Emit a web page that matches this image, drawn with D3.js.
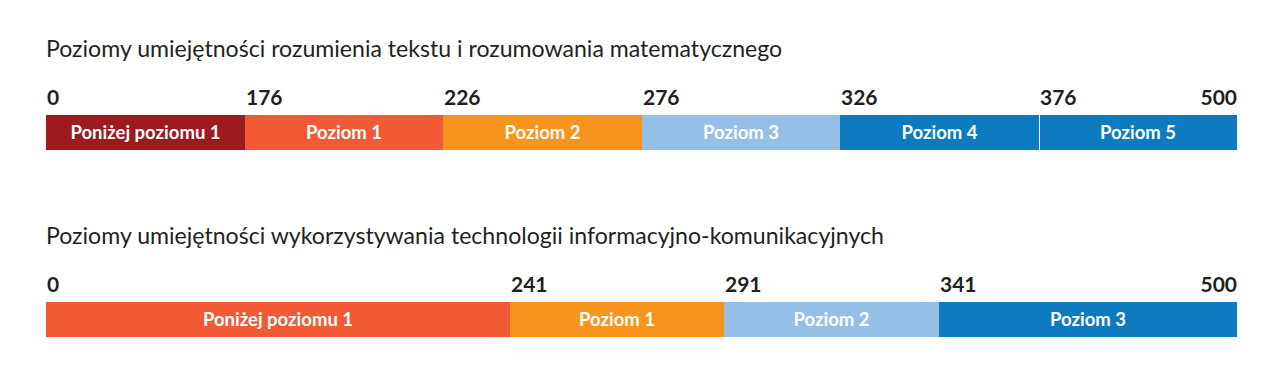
<!DOCTYPE html>
<html>
<head>
<meta charset="utf-8">
<script src="https://cdn.jsdelivr.net/npm/d3@7"></script>
<style>
  body { margin: 0; background: #fff; }
  text { font-family: Lato, "Open Sans", sans-serif; }
</style>
</head>
<body>
<div id="chart"></div>
<script>
// dane: progi punktowe i nazwy poziomow
var litTitle = "Poziomy umiejętności rozumienia tekstu i rozumowania matematycznego";
var litBounds = [0, 176, 226, 276, 326, 376, 500];
var litLevels = ["Poniżej poziomu 1", "Poziom 1", "Poziom 2", "Poziom 3", "Poziom 4", "Poziom 5"];

var ictTitle = "Poziomy umiejętności wykorzystywania technologii informacyjno-komunikacyjnych";
var ictBounds = [0, 241, 291, 341, 500];
var ictLevels = ["Poniżej poziomu 1", "Poziom 1", "Poziom 2", "Poziom 3"];

var litColors = ["#9b1b1f", "#f15a35", "#f7941d", "#95bfe6", "#0e7bc1", "#0e7bc1"];
var ictColors = ["#f15a35", "#f7941d", "#95bfe6", "#0e7bc1"];

var W = 1277, H = 374;
var left = 46, right = 1237;

var svg = d3.select("#chart").append("svg").attr("width", W).attr("height", H);

// top scale: equal-width segments; bottom: designer widths (fractions of bar)
var litStops = litBounds.map(function(d, i) { return i / (litBounds.length - 1); });
var ictStops = [0, 0.3896, 0.5693, 0.7498, 1];

function drawBlock(top, title, bounds, levels, colors, stops) {
  var x = d3.scaleLinear()
    .domain(bounds)
    .rangeRound(stops.map(function(s) { return left + s * (right - left); }));

  var g = svg.append("g").attr("transform", "translate(0," + top + ")");

  g.append("text")
    .attr("x", left)
    .attr("y", 0)
    .attr("fill", "#231f20")
    .style("font-size", "23.1px")
    .text(title);

  g.selectAll(".tick-label")
    .data(bounds)
    .enter().append("text")
      .attr("class", "tick-label")
      .attr("x", function(d, i) { return i == bounds.length - 1 ? x(d) : x(d) + 1; })
      .attr("y", 48)
      .attr("text-anchor", function(d, i) { return i == bounds.length - 1 ? "end" : "start"; })
      .attr("fill", "#231f20")
      .style("font-size", "21px")
      .style("font-weight", "bold")
      .text(function(d) { return d; });

  var segs = levels.map(function(l, i) { return {label: l, a: bounds[i], b: bounds[i + 1], c: colors[i]}; });

  g.selectAll(".seg")
    .data(segs)
    .enter().append("rect")
      .attr("class", "seg")
      .attr("x", function(d) { return x(d.a); })
      .attr("y", 58)
      .attr("width", function(d) { return x(d.b) - x(d.a); })
      .attr("height", 35)
      .attr("fill", function(d) { return d.c; })
      .attr("shape-rendering", "crispEdges");

  // white separator only where two neighbours share a colour
  g.selectAll(".sep")
    .data(segs.slice(1).filter(function(d, i) { return d.c == segs[i].c; }))
    .enter().append("line")
      .attr("class", "sep")
      .attr("x1", function(d) { return x(d.a) + 0.5; })
      .attr("x2", function(d) { return x(d.a) + 0.5; })
      .attr("y1", 58)
      .attr("y2", 93)
      .attr("stroke", "#fff")
      .attr("stroke-width", 1);

  g.selectAll(".seg-label")
    .data(segs)
    .enter().append("text")
      .attr("class", "seg-label")
      .attr("x", function(d) { return (x(d.a) + x(d.b)) / 2; })
      .attr("y", 82)
      .attr("text-anchor", "middle")
      .attr("fill", "#fff")
      .style("font-size", "18.5px")
      .style("font-weight", "bold")
      .text(function(d) { return d.label; });
}

drawBlock(57, litTitle, litBounds, litLevels, litColors, litStops);
drawBlock(244, ictTitle, ictBounds, ictLevels, ictColors, ictStops);
</script>
</body>
</html>
